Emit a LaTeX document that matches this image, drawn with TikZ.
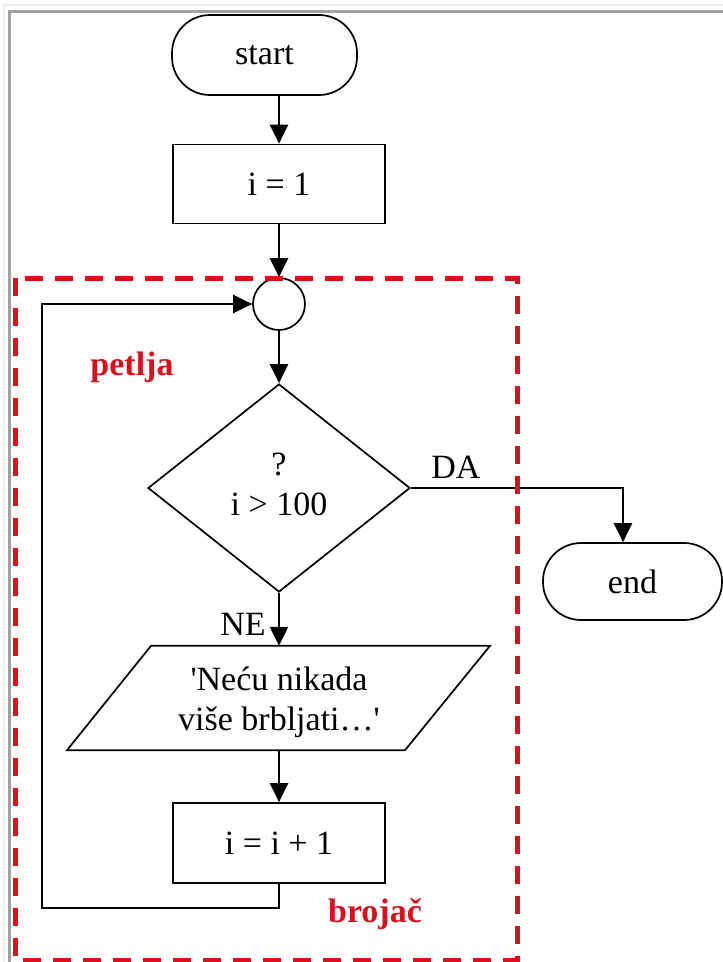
\documentclass[tikz,border=0pt]{standalone}
\usepackage{fontspec}
\setmainfont{Liberation Serif}
\usetikzlibrary{arrows.meta,shapes.geometric}
\definecolor{loopred}{RGB}{218,16,28}
\definecolor{framegray}{RGB}{160,160,160}
\definecolor{framelight}{RGB}{238,238,238}
\begin{document}
\begin{tikzpicture}[x=1pt,y=-1pt,
  every node/.style={font=\fontsize{34}{40}\selectfont, inner sep=0pt},
  outl/.style={draw=black, line width=1.7pt},
  terminal/.style={outl, rounded corners=38pt, minimum width=185pt, minimum height=80pt},
  procbox/.style={outl, minimum width=212pt, minimum height=79pt},
  flow/.style={draw=black, line width=2.4pt, -{Triangle[width=18pt,length=19pt]}},
  redlabel/.style={text=loopred, font=\fontsize{34}{40}\selectfont\bfseries}
]
\useasboundingbox (0,0) rectangle (723,962);
\fill[white] (0,0) rectangle (723,962);

% window frame
\draw[framelight, line width=2pt] (4,962) -- (4,5) -- (723,5);
\draw[framegray, line width=3pt] (9.5,962) -- (9.5,11.5) -- (723,11.5);

% flowchart elements
\node[terminal] (start) at (264.5,55) {start};
\node[procbox] (init) at (279,184) {i = 1};
\node[circle, outl, minimum size=52pt] (join) at (279,304) {};
\node[diamond, outl, minimum width=262pt, minimum height=208pt] (test) at (279,488) {};
\node[align=center] (cond) at ([yshift=4pt]test.center) {?\\i > 100};
\node[terminal, minimum width=179pt, minimum height=77pt] (stop) at (632.5,581.5) {end};

% output parallelogram
\node[minimum width=254pt, minimum height=104pt] (out) at (279,698) {};
\draw[outl] ([xshift=-128pt]out.north) -- ([xshift=211pt]out.north)
  -- ([xshift=126pt]out.south) -- ([xshift=-212pt]out.south) -- cycle;
\node[align=center] (outtext) at ([yshift=-4pt]out.center)
  {\textquotesingle Neću nikada\\više brbljati…\textquotesingle};

\node[procbox, minimum height=80pt] (incr) at (279,843) {i = i + 1};

% branch labels
\node[anchor=base] (da) at (456,478) {DA};
\node[anchor=base] (ne) at (243,635) {NE};

% connectors
\draw[flow] (start.south -| init.north) -- (init.north);
\draw[flow] (init.south) -- (join.north);
\draw[flow] (join.south) -- (test.north);
\draw[flow] (test.east) -| ([xshift=-9.5pt]stop.north);
\draw[flow] (test.south) -- (out.north);
\draw[flow] (out.south) -- (incr.north);
\coordinate (back) at (42,908);
\draw[flow] (incr.south) |- (back) |- (join.west);

% loop region
\draw[loopred, line width=5pt, dash pattern=on 18pt off 12pt] (15,278) rectangle (517,960);
\node[redlabel, anchor=base] (loopname) at (132,375) {petlja};
\node[redlabel, anchor=base] (countername) at (375,922) {brojač};
\end{tikzpicture}
\end{document}
